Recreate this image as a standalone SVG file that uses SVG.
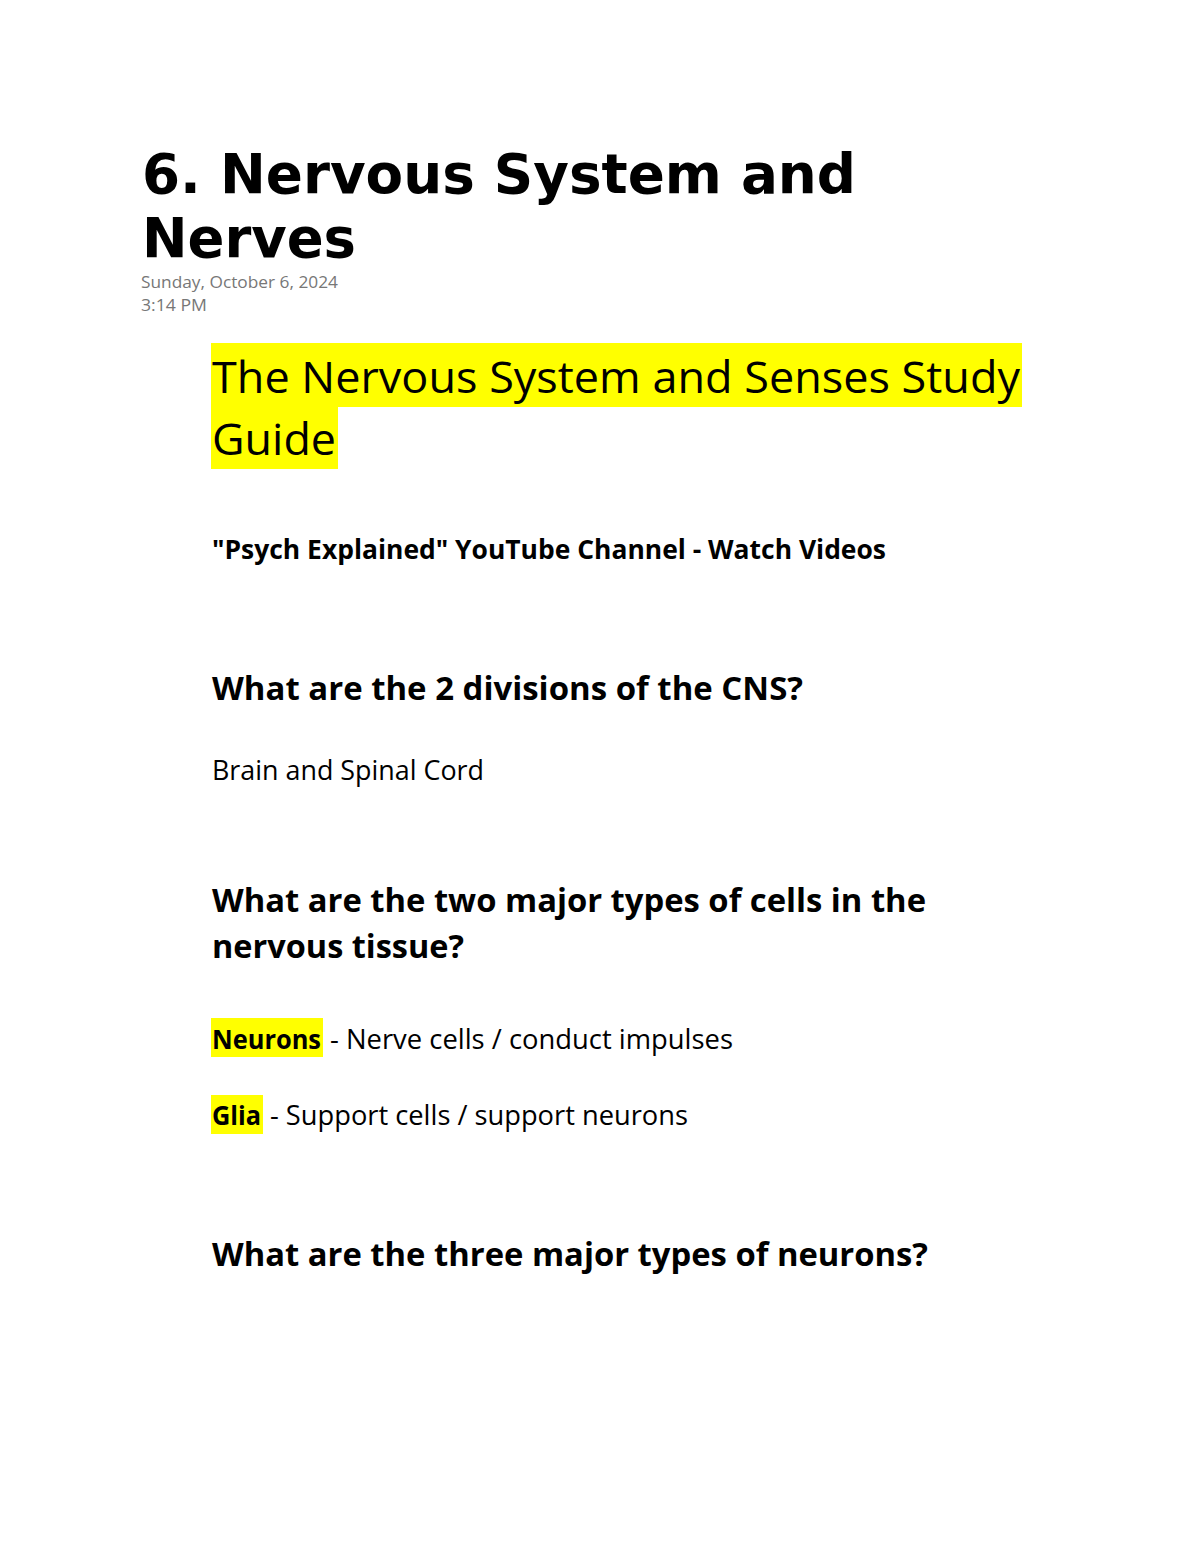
<svg xmlns="http://www.w3.org/2000/svg" width="1200" height="1553" viewBox="0 0 1200 1553">
<style>
.t{font-family:"DejaVu Sans",sans-serif;font-weight:bold;font-size:56px;fill:#000}
.d{font-family:"Open Sans","Liberation Sans",sans-serif;font-size:16px;fill:#777}
.c{font-family:"Open Sans","Liberation Sans",sans-serif;fill:#000}
.b{font-weight:bold}
.hl{fill:#ffff00}
</style>
<rect width="1200" height="1553" fill="#fff"/>
<text class="t" x="142" y="193" textLength="714" lengthAdjust="spacingAndGlyphs">6. Nervous System and</text>
<text class="t" x="142" y="257" textLength="214" lengthAdjust="spacingAndGlyphs">Nerves</text>
<text class="d" x="141" y="288" textLength="197" lengthAdjust="spacingAndGlyphs">Sunday, October 6, 2024</text>
<text class="d" x="141" y="311" textLength="66" lengthAdjust="spacingAndGlyphs">3:14 PM</text>
<rect class="hl" x="211" y="343" width="811" height="64"/>
<rect class="hl" x="211" y="407" width="127" height="62"/>
<text class="c" x="212" y="393" font-size="44" textLength="808" lengthAdjust="spacingAndGlyphs">The Nervous System and Senses Study</text>
<text class="c" x="212" y="455" font-size="44" textLength="124" lengthAdjust="spacingAndGlyphs">Guide</text>
<text class="c b" x="212" y="559" font-size="26" textLength="674" lengthAdjust="spacingAndGlyphs">"Psych Explained" YouTube Channel - Watch Videos</text>
<text class="c b" x="212" y="700" font-size="33" textLength="591" lengthAdjust="spacingAndGlyphs">What are the 2 divisions of the CNS?</text>
<text class="c" x="212" y="780" font-size="27" textLength="272" lengthAdjust="spacingAndGlyphs">Brain and Spinal Cord</text>
<text class="c b" x="212" y="912" font-size="33" textLength="714" lengthAdjust="spacingAndGlyphs">What are the two major types of cells in the</text>
<text class="c b" x="212" y="958" font-size="33" textLength="252" lengthAdjust="spacingAndGlyphs">nervous tissue?</text>
<rect class="hl" x="211" y="1018" width="112" height="39"/>
<text class="c b" x="212" y="1049" font-size="27" textLength="109" lengthAdjust="spacingAndGlyphs">Neurons</text>
<text class="c" x="330" y="1049" font-size="27" textLength="403" lengthAdjust="spacingAndGlyphs">- Nerve cells / conduct impulses</text>
<rect class="hl" x="211" y="1095" width="52" height="39"/>
<text class="c b" x="212" y="1125" font-size="27" textLength="49" lengthAdjust="spacingAndGlyphs">Glia</text>
<text class="c" x="270" y="1125" font-size="27" textLength="418" lengthAdjust="spacingAndGlyphs">- Support cells / support neurons</text>
<text class="c b" x="212" y="1266" font-size="33" textLength="716" lengthAdjust="spacingAndGlyphs">What are the three major types of neurons?</text>
</svg>
